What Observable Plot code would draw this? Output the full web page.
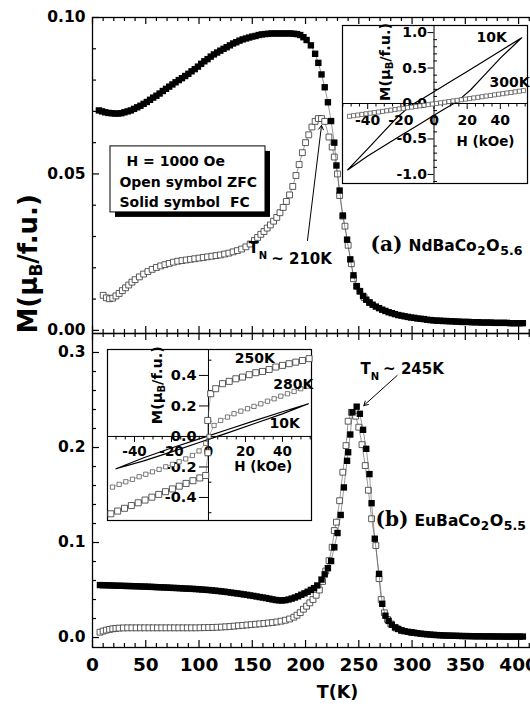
<!DOCTYPE html>
<html>
<head>
<meta charset="utf-8">
<script src="https://cdn.jsdelivr.net/npm/d3@7"></script>
<script src="https://cdn.jsdelivr.net/npm/@observablehq/plot@0.6"></script>
<style>
  html, body { margin: 0; padding: 0; background: #fff; overflow: hidden; }
  #fig { position: relative; width: 530px; height: 707px; overflow: hidden; background: #fff; }
</style>
</head>
<body>
<div id="fig"></div>
<script>
// ---------- data: magnetization vs temperature, H = 1000 Oe ----------
// [T (K), M (muB/f.u.)]
const ndFC = [[6,0.0703],[9,0.0700],[12,0.0697],[15,0.0695],[18,0.0694],[21,0.0693],[24,0.0693],[27,0.0694],[30,0.0697],[33,0.0700],[36,0.0703],[39,0.0708],[42,0.0713],[45,0.0718],[48,0.0724],[51,0.0730],[54,0.0737],[57,0.0744],[60,0.0750],[63,0.0757],[66,0.0765],[69,0.0772],[72,0.0779],[75,0.0786],[78,0.0793],[81,0.0800],[84,0.0806],[87,0.0813],[90,0.0820],[93,0.0828],[96,0.0835],[99,0.0843],[102,0.0852],[105,0.0860],[108,0.0867],[111,0.0875],[114,0.0882],[117,0.0888],[120,0.0894],[123,0.0900],[126,0.0905],[129,0.0911],[132,0.0917],[135,0.0921],[138,0.0926],[141,0.0930],[144,0.0933],[147,0.0936],[150,0.0939],[153,0.0941],[156,0.0944],[159,0.0946],[162,0.0947],[165,0.0948],[168,0.0949],[171,0.0949],[174,0.0949],[177,0.0949],[180,0.0949],[183,0.0949],[186,0.0949],[189,0.0948],[192,0.0947],[195,0.0944],[198,0.0937],[201,0.0928],[205,0.0911],[209,0.0884],[212,0.0855],[215,0.0818],[218,0.0777],[221,0.0729],[224,0.0669],[227,0.0600],[229,0.0527],[232,0.0447],[235,0.0367],[239,0.0290],[242,0.0227],[245,0.0176],[248,0.0141],[251,0.0125],[254,0.0110],[257,0.0098],[260,0.0089],[263,0.0082],[266,0.0076],[269,0.0071],[272,0.0066],[275,0.0062],[278,0.0058],[281,0.0055],[284,0.0052],[287,0.0049],[290,0.0047],[293,0.0045],[296,0.0043],[299,0.0041],[302,0.0040],[305,0.0038],[308,0.0037],[311,0.0036],[314,0.0034],[317,0.0033],[320,0.0032],[323,0.0031],[326,0.0031],[329,0.0030],[332,0.0030],[335,0.0029],[338,0.0029],[341,0.0028],[344,0.0028],[347,0.0027],[350,0.0027],[353,0.0027],[356,0.0026],[359,0.0026],[362,0.0026],[365,0.0025],[368,0.0025],[371,0.0025],[374,0.0025],[377,0.0024],[380,0.0024],[383,0.0024],[386,0.0024],[389,0.0024],[392,0.0023],[395,0.0023],[398,0.0023],[401,0.0023],[404,0.0023]];

const ndZFC = [[10,0.0112],[13,0.0104],[16,0.0101],[19,0.0103],[22,0.0110],[25,0.0118],[28,0.0127],[31,0.0136],[34,0.0145],[37,0.0154],[40,0.0162],[44,0.0171],[48,0.0180],[52,0.0188],[56,0.0195],[60,0.0201],[64,0.0206],[68,0.0210],[72,0.0214],[76,0.0218],[80,0.0221],[84,0.0223],[88,0.0225],[92,0.0227],[96,0.0229],[100,0.0231],[104,0.0233],[108,0.0235],[112,0.0237],[116,0.0239],[120,0.0241],[124,0.0244],[128,0.0247],[132,0.0251],[136,0.0255],[140,0.0260],[144,0.0267],[148,0.0276],[152,0.0287],[155,0.0297],[158,0.0307],[161,0.0316],[164,0.0327],[167,0.0337],[170,0.0349],[173,0.0361],[176,0.0376],[179,0.0393],[182,0.0412],[185,0.0433],[188,0.0460],[191,0.0495],[194,0.0530],[197,0.0568],[200,0.0600],[203,0.0625],[206,0.0650],[209,0.0668],[212,0.0677],[215,0.0677],[218,0.0668],[222,0.0618],[225,0.0586],[227,0.0554],[230,0.0500],[232,0.0431],[235,0.0365],[237,0.0333],[240,0.0272],[243,0.0213],[245,0.0165],[248,0.0141],[251,0.0125],[255,0.0105],[260,0.0089]];

const euFC = [[7,0.0552],[10,0.0551],[13,0.0550],[16,0.0549],[19,0.0547],[22,0.0546],[25,0.0545],[28,0.0544],[31,0.0543],[34,0.0542],[37,0.0541],[40,0.0540],[43,0.0539],[46,0.0537],[49,0.0536],[52,0.0535],[55,0.0533],[58,0.0532],[61,0.0530],[64,0.0529],[67,0.0527],[70,0.0526],[73,0.0524],[76,0.0522],[79,0.0521],[82,0.0519],[85,0.0517],[88,0.0515],[91,0.0514],[94,0.0512],[97,0.0510],[100,0.0508],[103,0.0505],[106,0.0502],[109,0.0500],[112,0.0497],[115,0.0493],[118,0.0490],[121,0.0486],[124,0.0482],[127,0.0478],[130,0.0473],[133,0.0468],[136,0.0464],[139,0.0459],[142,0.0454],[145,0.0449],[148,0.0443],[151,0.0438],[154,0.0432],[157,0.0426],[160,0.0421],[163,0.0415],[166,0.0408],[169,0.0401],[172,0.0395],[175,0.0391],[178,0.0390],[181,0.0393],[184,0.0400],[187,0.0410],[190,0.0421],[193,0.0434],[196,0.0450],[199,0.0465],[202,0.0482],[205,0.0501],[208,0.0520],[211,0.0548],[215,0.0610],[218,0.0665],[221,0.0730],[224,0.0805],[227,0.0950],[230,0.1100],[233,0.1290],[236,0.1580],[239,0.1860],[240,0.1950],[242,0.2137],[244,0.2370],[248,0.2430],[251,0.2355],[254,0.2186],[257,0.1986],[260,0.1720],[262,0.1414],[265,0.1040],[269,0.0670],[272,0.0355],[275,0.0230],[278,0.0175],[281,0.0135],[284,0.0107],[287,0.0090],[290,0.0075],[293,0.0067],[296,0.0060],[299,0.0055],[302,0.0050],[305,0.0045],[308,0.0041],[311,0.0037],[314,0.0034],[317,0.0031],[320,0.0028],[323,0.0026],[326,0.0024],[329,0.0022],[332,0.0021],[335,0.0020],[338,0.0019],[341,0.0018],[344,0.0017],[347,0.0016],[350,0.0015],[353,0.0015],[356,0.0014],[359,0.0013],[362,0.0013],[365,0.0013],[368,0.0012],[371,0.0012],[374,0.0012],[377,0.0011],[380,0.0011],[383,0.0011],[386,0.0010],[389,0.0010],[392,0.0010],[395,0.0010],[398,0.0010],[401,0.0010],[404,0.0010]];

const euZFC = [[7,0.0056],[10,0.0068],[13,0.0078],[16,0.0086],[19,0.0092],[22,0.0096],[25,0.0099],[29,0.0101],[33,0.0102],[37,0.0102],[41,0.0102],[45,0.0102],[49,0.0102],[53,0.0102],[57,0.0102],[61,0.0102],[65,0.0102],[69,0.0102],[73,0.0102],[77,0.0102],[81,0.0102],[85,0.0102],[89,0.0102],[93,0.0102],[97,0.0102],[101,0.0103],[105,0.0104],[109,0.0105],[113,0.0106],[117,0.0108],[121,0.0110],[125,0.0113],[129,0.0116],[133,0.0120],[137,0.0124],[141,0.0128],[145,0.0132],[149,0.0136],[153,0.0140],[157,0.0144],[161,0.0148],[165,0.0153],[169,0.0158],[173,0.0164],[177,0.0172],[181,0.0182],[185,0.0195],[189,0.0214],[192,0.0235],[195,0.0262],[198,0.0298],[201,0.0330],[204,0.0365],[207,0.0400],[210,0.0445],[213,0.0500],[216,0.0590],[219,0.0700],[222,0.0810],[225,0.0950],[227,0.1126],[229,0.1214],[232,0.1440],[235,0.1740],[238,0.2020],[240,0.2277],[243,0.2370],[247,0.2330],[250,0.2214],[253,0.2030],[256,0.1810],[259,0.1550],[262,0.1250],[266,0.0968],[269,0.0620],[271,0.0400],[274,0.0260],[277,0.0190],[280,0.0144],[285,0.0100],[290,0.0075],[300,0.0053]];

// ---------- data: M-H loops, [H (kOe), M (muB/f.u.)] ----------
const nd10K = [[52.9,0.927],[40,0.74],[30,0.595],[20,0.45],[10,0.31],[0,0.165],[-6,0.08],[-12,0.0],[-17,-0.09],[-22,-0.19],[-30,-0.39],[-40,-0.64],[-52.1,-0.937],[-40,-0.74],[-30,-0.595],[-20,-0.45],[-10,-0.31],[0,-0.165],[6,-0.08],[12,0.0],[17,0.09],[22,0.19],[30,0.39],[40,0.64],[52.9,0.927]];

const nd300K = [[-51,-0.180],[-48.5,-0.171],[-46,-0.163],[-43.5,-0.154],[-41,-0.145],[-38.5,-0.137],[-36,-0.128],[-33.5,-0.120],[-31,-0.111],[-28.5,-0.102],[-26,-0.094],[-23.5,-0.085],[-21,-0.076],[-18.5,-0.068],[-16,-0.059],[-13.5,-0.051],[-11,-0.042],[-8.5,-0.033],[-6,-0.025],[-3.5,-0.016],[-1,-0.007],[1.5,0.001],[4,0.010],[6.5,0.018],[9,0.027],[11.5,0.036],[14,0.044],[16.5,0.053],[19,0.062],[21.5,0.070],[24,0.079],[26.5,0.087],[29,0.096],[31.5,0.105],[34,0.113],[36.5,0.122],[39,0.131],[41.5,0.139],[44,0.148],[46.5,0.156],[49,0.165],[51.5,0.174],[54,0.182]];

const eu10K = [[-50,-0.212],[-35,-0.160],[-20,-0.101],[-5,-0.040],[0,-0.019],[10,0.022],[25,0.085],[40,0.148],[54,0.214],[40,0.162],[25,0.104],[10,0.044],[0,0.004],[-5,-0.016],[-20,-0.076],[-35,-0.140],[-50,-0.212]];

const eu250K = [[-52.8,-0.507],[-49.1,-0.489],[-45.4,-0.471],[-41.7,-0.453],[-38.0,-0.435],[-34.3,-0.417],[-30.6,-0.398],[-26.9,-0.380],[-23.2,-0.362],[-19.5,-0.344],[-15.8,-0.326],[-12.1,-0.308],[-8.4,-0.290],[-4.7,-0.272],[-1.5,-0.256],[-0.3,-0.107],[-0.4,0.105],[1.2,0.280],[3.9,0.313],[7.6,0.346],[11.2,0.361],[14.8,0.378],[18.4,0.389],[22.0,0.405],[25.6,0.418],[29.2,0.426],[32.8,0.439],[36.4,0.455],[40.0,0.466],[43.6,0.477],[47.2,0.487],[50.8,0.498],[54.4,0.510]];

const eu280K = [[-51.9,-0.332],[-48.3,-0.314],[-44.7,-0.297],[-41.1,-0.281],[-37.5,-0.264],[-33.9,-0.248],[-30.3,-0.232],[-26.7,-0.216],[-23.1,-0.199],[-19.5,-0.183],[-15.9,-0.166],[-12.3,-0.147],[-8.7,-0.125],[-5.1,-0.095],[-1.5,-0.045],[0.2,0.0],[3.0,0.072],[6.6,0.105],[10.3,0.127],[13.8,0.149],[17.5,0.166],[21.1,0.182],[24.6,0.197],[28.3,0.214],[31.9,0.231],[35.5,0.247],[39.1,0.264],[42.7,0.280],[46.3,0.295],[49.9,0.313],[53.5,0.330]];

// ---------- tick values and labels ----------
const tempTicks = [0, 50, 100, 150, 200, 250, 300, 350, 400];
const mTicksA = [0, 0.05, 0.10];
const mLabelsA = ["0.00", "0.05", "0.10"];
const mTicksB = [0, 0.1, 0.2, 0.3];
const mLabelsB = ["0.0", "0.1", "0.2", "0.3"];
const hTicks = [-40, -20, 0, 20, 40];
const hLabels = ["-40", "-20", "0", "20", "40"];
const loopTicksA = [-1, -0.5, 0, 0.5, 1];
const loopLabelsA = ["-1.0", "-0.5", "0.0", "0.5", "1.0"];
const loopTicksB = [-0.4, -0.2, 0, 0.2, 0.4];
const loopLabelsB = ["-0.4", "-0.2", "0.0", "0.2", "0.4"];

// ---------- helpers ----------
const SANS = "'DejaVu Sans', sans-serif";
const SERIF = "'DejaVu Serif', serif";
const ctx = document.createElement("canvas").getContext("2d");
function textWidth(s, size, family) {
  ctx.font = `bold ${size}px ${family}`;
  return ctx.measureText(s).width;
}
// a label made of pieces (for subscripts); advances along the text direction
function richText(pieces, {x, y, frameAnchor, dx = 0, dy = 0, rotate = 0}) {
  let adv = 0;
  return pieces.map(p => {
    const family = p.family || SANS;
    const shift = p.shift || 0;
    adv += p.gap || 0;
    const opts = {
      text: d => d, rotate, textAnchor: "start", lineAnchor: "bottom",
      dx: dx + (rotate ? shift : adv),
      dy: dy + (rotate ? -adv : shift),
      fontSize: p.size, fontFamily: family, fontWeight: "bold", fill: "black"
    };
    if (x !== undefined) opts.x = x;
    if (y !== undefined) opts.y = y;
    if (frameAnchor) opts.frameAnchor = frameAnchor;
    adv += textWidth(p.t, p.size, family);
    return Plot.text([p.t], opts);
  });
}
const X = d => d[0], Y = d => d[1];
const bold = (size) => ({fontSize: size, fontFamily: SANS, fontWeight: "bold"});
const fig = document.getElementById("fig");
function place(svg, left, top, bg) {
  svg.style.position = "absolute";
  svg.style.left = left + "px";
  svg.style.top = top + "px";
  svg.style.maxWidth = "none";
  svg.style.overflow = "visible";
  svg.style.background = bg;
  fig.appendChild(svg);
}

// ---------- main panels geometry ----------
const W = 600, ML = 92, MR = 18;
const tDomain = [0, 460];
const uX = (tDomain[1] - tDomain[0]) / (W - ML - MR);   // K per px
const xMajor = d3.range(0, 451, 50);
const xMinor = d3.range(0, 461, 10).filter(v => v % 50 !== 0);
const tickStyle = {stroke: "black", strokeWidth: 1.2};

function frameTicks(yDom, uY, yMajor, yMinor) {
  const [y0, y1] = yDom;
  return [
    Plot.ruleX(xMajor, {x: d => d, y1: y1, y2: y1 - 7 * uY, ...tickStyle}),
    Plot.ruleX(xMinor, {x: d => d, y1: y1, y2: y1 - 4 * uY, ...tickStyle}),
    Plot.ruleX(xMajor, {x: d => d, y1: y0, y2: y0 + 7 * uY, ...tickStyle}),
    Plot.ruleX(xMinor, {x: d => d, y1: y0, y2: y0 + 4 * uY, ...tickStyle}),
    Plot.ruleY(yMajor, {y: d => d, x1: 0, x2: 7 * uX, ...tickStyle}),
    Plot.ruleY(yMinor, {y: d => d, x1: 0, x2: 4 * uX, ...tickStyle}),
    Plot.frame({stroke: "black", strokeWidth: 1.3})
  ];
}
function curves(zfc, fc) {
  return [
    Plot.line(zfc, {x: X, y: Y, stroke: "#555", strokeWidth: 0.6}),
    Plot.dot(zfc, {x: X, y: Y, symbol: "square", r: 3.3, fill: "white", stroke: "#333", strokeWidth: 0.8}),
    Plot.line(fc, {x: X, y: Y, stroke: "#555", strokeWidth: 0.6}),
    Plot.dot(fc, {x: X, y: Y, symbol: "square", r: 3.6, fill: "black", stroke: "none"})
  ];
}

// ---------- panel (a): NdBaCo2O5.6 ----------
const HA = 333, TOPA = 17;
const yDomA = [-0.001, 0.10];
const uYA = (yDomA[1] - yDomA[0]) / (HA - TOPA);
const minorA = d3.range(0, 11).filter(i => i % 5 !== 0).map(i => i / 100);

const panelA = Plot.plot({
  width: W, height: HA,
  marginLeft: ML, marginRight: MR, marginTop: TOPA, marginBottom: 0,
  x: {domain: tDomain, axis: null},
  y: {domain: yDomA, axis: null},
  marks: [
    ...curves(ndZFC, ndFC),
    // legend box with drop shadow
    Plot.rect([0], {x1: 16.9, x2: 162.4, y1: 0.0377, y2: 0.0588, fill: "black", dx: 5, dy: 5}),
    Plot.rect([0], {x1: 16.9, x2: 162.4, y1: 0.0377, y2: 0.0588, fill: "white", stroke: "black", strokeWidth: 1}),
    Plot.text(["H = 1000 Oe"], {x: 31.9, y: 0.0540, text: d => d, textAnchor: "start", ...bold(14)}),
    Plot.text(["Open symbol ZFC"], {x: 25.3, y: 0.0473, text: d => d, textAnchor: "start", ...bold(14)}),
    Plot.text(["Solid symbol  FC"], {x: 25.3, y: 0.0409, text: d => d, textAnchor: "start", ...bold(14)}),
    // Néel temperature marker
    Plot.arrow([0], {x1: 201.8, y1: 0.0287, x2: 215, y2: 0.0655, stroke: "black", strokeWidth: 1, headLength: 7}),
    ...richText([
      {t: "T", size: 15},
      {t: "N", size: 10, shift: 6},
      {t: "~ 210K", size: 15, shift: 11, gap: 4}
    ], {x: 146.5, y: 0.0248}),
    ...richText([
      {t: "(a)", size: 20, family: SERIF},
      {t: "NdBaCo", size: 15.5, gap: 6},
      {t: "2", size: 12, shift: 4, gap: 0.5},
      {t: "O", size: 16, gap: 0.5},
      {t: "5.6", size: 12.5, shift: 4, gap: 0.5}
    ], {x: 261, y: 0.0255}),
    ...frameTicks(yDomA, uYA, mTicksA, minorA),
    Plot.text(mTicksA, {x: 0, y: d => d, dx: -7, text: (d, i) => mLabelsA[i], textAnchor: "end", ...bold(15.5)}),
    ...richText([
      {t: "M(\u03bc", size: 26},
      {t: "B", size: 17, shift: 5},
      {t: "/f.u.)", size: 26}
    ], {frameAnchor: "bottom-left", dx: -56, dy: 0, rotate: -90})
  ]
});
place(panelA, 0, 0, "transparent");

// ---------- panel (b): EuBaCo2O5.5 ----------
const HB = 374, BOTB = 60;
const yDomB = [-0.0105, 0.32];
const uYB = (yDomB[1] - yDomB[0]) / (HB - BOTB);
const minorB = d3.range(0, 16).filter(i => i % 5 !== 0).map(i => i * 0.02);

const panelB = Plot.plot({
  width: W, height: HB,
  marginLeft: ML, marginRight: MR, marginTop: 0, marginBottom: BOTB,
  x: {domain: tDomain, axis: null},
  y: {domain: yDomB, axis: null},
  marks: [
    ...curves(euZFC, euFC),
    Plot.arrow([0], {x1: 286, y1: 0.2758, x2: 254.7, y2: 0.2442, stroke: "black", strokeWidth: 1, headLength: 7}),
    ...richText([
      {t: "T", size: 15},
      {t: "N", size: 10, shift: 6},
      {t: "~ 245K", size: 15, gap: 4}
    ], {x: 251.6, y: 0.2776}),
    ...richText([
      {t: "(b)", size: 20, family: SERIF},
      {t: "EuBaCo", size: 15.5, gap: 6},
      {t: "2", size: 12, shift: 4, gap: 0.5},
      {t: "O", size: 16, gap: 0.5},
      {t: "5.5", size: 12.5, shift: 4, gap: 0.5}
    ], {x: 265.7, y: 0.1179}),
    ...frameTicks(yDomB, uYB, mTicksB, minorB),
    Plot.text(mTicksB, {x: 0, y: d => d, dx: -7, text: (d, i) => mLabelsB[i], textAnchor: "end", ...bold(15.5)}),
    Plot.text(tempTicks, {x: d => d, y: yDomB[0], dy: 18, text: d => String(d), ...bold(18.5)}),
    Plot.text(["T(K)"], {frameAnchor: "bottom", dy: 50, text: d => d, ...bold(17.5)})
  ]
});
place(panelB, 0, HA, "transparent");

// ---------- inset helpers ----------
function insetAxes(hDom, mDom, uH, uM, mTicks, mLabels, mLabelDx, hLabelDy, mMajorLen, mSize, hSize) {
  const hMinor = d3.range(-55, 56, 5).filter(v => v % 20 !== 0 && v >= hDom[0] && v <= hDom[1]);
  const mStep = 0.1;
  const mMinor = d3.range(Math.ceil(mDom[0] / mStep), Math.floor(mDom[1] / mStep) + 1)
    .map(i => +(i * mStep).toFixed(2))
    .filter(v => !mTicks.some(t => Math.abs(t - v) < 1e-6));
  return [
    Plot.ruleX([0], {stroke: "black", strokeWidth: 1}),
    Plot.ruleY([0], {stroke: "black", strokeWidth: 1}),
    Plot.ruleX(hTicks, {x: d => d, y1: 0, y2: -6 * uM, stroke: "black", strokeWidth: 1}),
    Plot.ruleX(hMinor, {x: d => d, y1: 0, y2: -3.5 * uM, stroke: "black", strokeWidth: 1}),
    Plot.ruleY(mTicks, {y: d => d, x1: 0, x2: -mMajorLen * uH, stroke: "black", strokeWidth: 1}),
    Plot.ruleY(mMinor, {y: d => d, x1: 0, x2: 3.5 * uH, stroke: "black", strokeWidth: 1}),
    Plot.text(mTicks, {x: 0, y: d => d, dx: mLabelDx, text: (d, i) => mLabels[i], textAnchor: "end", ...bold(mSize)}),
    Plot.text(hTicks, {x: d => d, y: 0, dy: hLabelDy, text: (d, i) => hLabels[i], ...bold(hSize)}),
    Plot.frame({stroke: "black", strokeWidth: 1.2})
  ];
}

// ---------- inset (a): M-H loops of NdBaCo2O5.6 ----------
const IWA = 185, IHA = 158;
const hDomA = [-55.2, 56.4], lDomA = [-1.128, 1.10];
const uHA = (hDomA[1] - hDomA[0]) / IWA, uMA = (lDomA[1] - lDomA[0]) / IHA;
const insetA = Plot.plot({
  width: IWA, height: IHA, margin: 0,
  x: {domain: hDomA, axis: null},
  y: {domain: lDomA, axis: null},
  marks: [
    ...insetAxes(hDomA, lDomA, uHA, uMA, loopTicksA, loopLabelsA, -7, 17, 6, 14, 14),
    Plot.line(nd10K, {x: X, y: Y, stroke: "black", strokeWidth: 1.2}),
    Plot.line(nd300K, {x: X, y: Y, stroke: "#666", strokeWidth: 0.5}),
    Plot.dot(nd300K, {x: X, y: Y, symbol: "square", r: 2.3, fill: "white", stroke: "#444", strokeWidth: 0.7}),
    Plot.text(["10K"], {x: 25.6, y: 0.93, text: d => d, textAnchor: "start", ...bold(14)}),
    Plot.text(["300K"], {x: 33.5, y: 0.30, text: d => d, textAnchor: "start", ...bold(14)}),
    Plot.text(["H (kOe)"], {x: 31.1, y: -0.543, text: d => d, ...bold(13.5)}),
    ...richText([
      {t: "M(\u03bc", size: 14.5},
      {t: "B", size: 10, shift: 3},
      {t: "/f.u.)", size: 14.5}
    ], {x: -26.4, y: 0.035, rotate: -90})
  ]
});
place(insetA, 342, 25, "white");

// ---------- inset (b): M-H loops of EuBaCo2O5.5 ----------
const IWB = 204, IHB = 171;
const hDomB = [-54.6, 55.7], lDomB = [-0.551, 0.570];
const uHB = (hDomB[1] - hDomB[0]) / IWB, uMB = (lDomB[1] - lDomB[0]) / IHB;
const insetB = Plot.plot({
  width: IWB, height: IHB, margin: 0,
  x: {domain: hDomB, axis: null},
  y: {domain: lDomB, axis: null},
  marks: [
    ...insetAxes(hDomB, lDomB, uHB, uMB, loopTicksB, loopLabelsB, -12, 15, 9, 14.5, 13.5),
    Plot.line(eu10K, {x: X, y: Y, stroke: "black", strokeWidth: 1.2}),
    Plot.line(eu280K, {x: X, y: Y, stroke: "#666", strokeWidth: 0.5}),
    Plot.dot(eu280K, {x: X, y: Y, symbol: "square", r: 2.4, fill: "white", stroke: "#444", strokeWidth: 0.7}),
    Plot.line(eu250K, {x: X, y: Y, stroke: "#666", strokeWidth: 0.6}),
    Plot.dot(eu250K, {x: X, y: Y, symbol: "square", r: 3.4, fill: "white", stroke: "#333", strokeWidth: 0.8}),
    Plot.text(["250K"], {x: 25.0, y: 0.508, text: d => d, ...bold(14)}),
    Plot.text(["280K"], {x: 45.8, y: 0.34, text: d => d, ...bold(14)}),
    Plot.text(["10K"], {x: 41.2, y: 0.088, text: d => d, ...bold(14)}),
    Plot.text(["H (kOe)"], {x: 29.6, y: -0.195, text: d => d, ...bold(13.5)}),
    ...richText([
      {t: "M(\u03bc", size: 14.5},
      {t: "B", size: 10, shift: 3},
      {t: "/f.u.)", size: 14.5}
    ], {x: -25.2, y: 0.08, rotate: -90})
  ]
});
place(insetB, 107, 349, "white");
</script>
</body>
</html>
